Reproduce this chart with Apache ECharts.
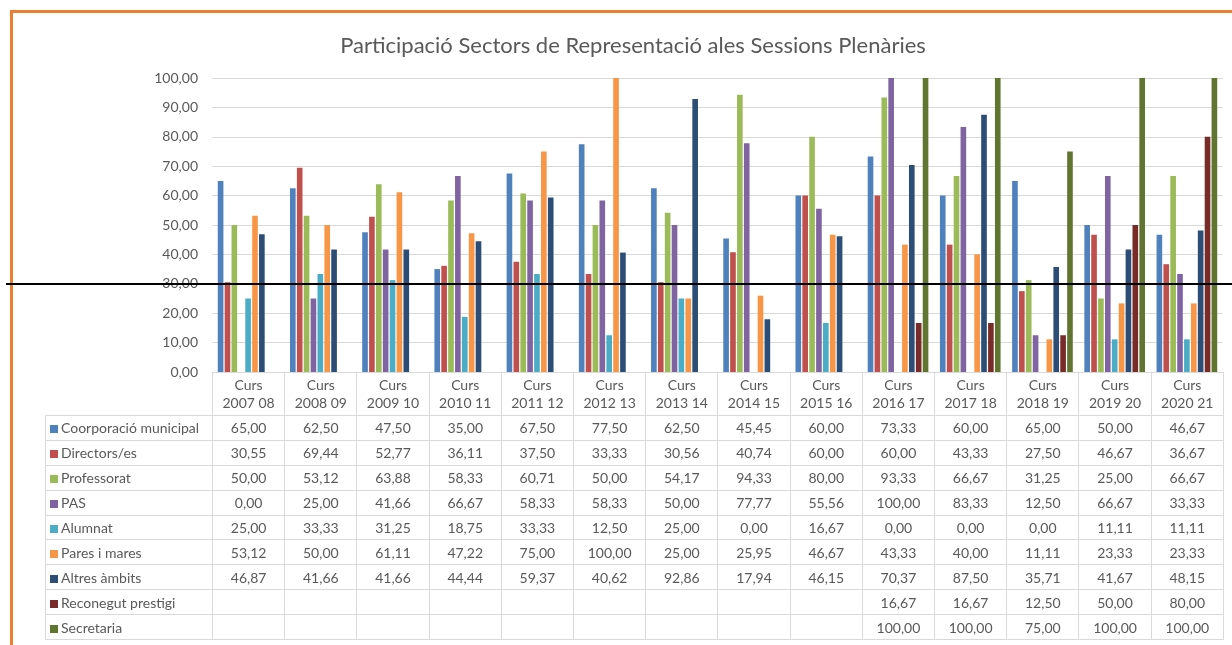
<!DOCTYPE html>
<html>
<head>
<meta charset="utf-8">
<script src="https://cdn.jsdelivr.net/npm/echarts@6/dist/echarts.min.js"></script>
<style>
  html, body { margin: 0; padding: 0; background: #fff; }
  #wrap { position: relative; width: 1232px; height: 645px; overflow: hidden; }
  #chart { position: absolute; left: 0; top: 0; width: 1232px; height: 645px; }
  #frame { position: absolute; left: 10px; top: 10px; width: 1240px; height: 660px;
           border-top: 3px solid #ED7D31; border-left: 3px solid #ED7D31; pointer-events: none; }
  #cut { position: absolute; left: 6px; top: 283px; width: 1226px; height: 2px; background: #000; }
  #tbl { position: absolute; left: 45px; top: 372px; border-collapse: collapse; table-layout: fixed;
         font-family: Lato, "Liberation Sans", sans-serif; font-size: 14px; color: #595959; }
  #tbl td { border: 1px solid #d9d9d9; padding: 0; text-align: center; height: 23.9px; white-space: nowrap; }
  #tbl tr.head td { height: 42px; line-height: 18px; }
  #tbl td.blank { border: none; border-right: 1px solid #d9d9d9; }
  #tbl td.name { text-align: left; padding-left: 4px; }
  #tbl .key { display: inline-block; width: 8px; height: 8px; margin-right: 3px; vertical-align: 0px; }
</style>
</head>
<body>
<div id="wrap">
  <div id="chart"></div>
  <table id="tbl"></table>
  <div id="frame"></div>
  <div id="cut"></div>
</div>
<script>
const categories = ['Curs 2007 08', 'Curs 2008 09', 'Curs 2009 10', 'Curs 2010 11', 'Curs 2011 12',
  'Curs 2012 13', 'Curs 2013 14', 'Curs 2014 15', 'Curs 2015 16', 'Curs 2016 17', 'Curs 2017 18',
  'Curs 2018 19', 'Curs 2019 20', 'Curs 2020 21']

const seriesNames = ['Coorporació municipal', 'Directors/es', 'Professorat', 'PAS', 'Alumnat',
  'Pares i mares', 'Altres àmbits', 'Reconegut prestigi', 'Secretaria']

const coorporacio = [65.00, 62.50, 47.50, 35.00, 67.50, 77.50, 62.50, 45.45, 60.00, 73.33, 60.00, 65.00, 50.00, 46.67]
const directors = [30.55, 69.44, 52.77, 36.11, 37.50, 33.33, 30.56, 40.74, 60.00, 60.00, 43.33, 27.50, 46.67, 36.67]
const professorat = [50.00, 53.12, 63.88, 58.33, 60.71, 50.00, 54.17, 94.33, 80.00, 93.33, 66.67, 31.25, 25.00, 66.67]
const pas = [0.00, 25.00, 41.66, 66.67, 58.33, 58.33, 50.00, 77.77, 55.56, 100.00, 83.33, 12.50, 66.67, 33.33]
const alumnat = [25.00, 33.33, 31.25, 18.75, 33.33, 12.50, 25.00, 0.00, 16.67, 0.00, 0.00, 0.00, 11.11, 11.11]
const pares = [53.12, 50.00, 61.11, 47.22, 75.00, 100.00, 25.00, 25.95, 46.67, 43.33, 40.00, 11.11, 23.33, 23.33]
const altres = [46.87, 41.66, 41.66, 44.44, 59.37, 40.62, 92.86, 17.94, 46.15, 70.37, 87.50, 35.71, 41.67, 48.15]
const prestigi = [null, null, null, null, null, null, null, null, null, 16.67, 16.67, 12.50, 50.00, 80.00]
const secretaria = [null, null, null, null, null, null, null, null, null, 100.00, 100.00, 75.00, 100.00, 100.00]

const yTicks = [0, 10, 20, 30, 40, 50, 60, 70, 80, 90, 100]

const colors = ['#4F81BD', '#C0504D', '#9BBB59', '#8064A2', '#4BACC6', '#F79646', '#2C4D75', '#772C2A', '#5F7530']
const allData = [coorporacio, directors, professorat, pas, alumnat, pares, altres, prestigi, secretaria]

const fmt = v => (v === null || v === undefined) ? '' : v.toFixed(2).replace('.', ',')

// data table under the plot
const plotLeft = 212, plotRight = 1223
const colW = (plotRight - plotLeft) / categories.length
const tbl = document.getElementById('tbl')
let html = '<colgroup><col style="width:' + (plotLeft - 45) + 'px">'
categories.forEach(() => { html += '<col style="width:' + colW + 'px">' })
html += '</colgroup><tr class="head"><td class="blank"></td>'
categories.forEach(c => {
  const parts = c.split(' ')
  html += '<td>' + parts[0] + '<br>' + parts.slice(1).join(' ') + '</td>'
})
html += '</tr>'
seriesNames.forEach((name, i) => {
  html += '<tr><td class="name"><span class="key" style="background:' + colors[i] + '"></span>' + name + '</td>'
  allData[i].forEach(v => { html += '<td>' + fmt(v) + '</td>' })
  html += '</tr>'
})
tbl.innerHTML = html
tbl.style.width = (plotRight - 45) + 'px'

const chart = echarts.init(document.getElementById('chart'))
chart.setOption({
  animation: false,
  color: colors,
  title: {
    text: 'Participació Sectors de Representació ales Sessions Plenàries',
    left: 628,
    top: 30,
    textAlign: 'center',
    textStyle: { color: '#595959', fontSize: 22, fontWeight: 'normal', fontFamily: 'Lato, "Liberation Sans", sans-serif' },
  },
  grid: { left: plotLeft, right: 1232 - plotRight, top: 78, bottom: 645 - 372 },
  xAxis: {
    type: 'category',
    data: categories,
    axisLine: { show: true, lineStyle: { color: '#d9d9d9' } },
    axisTick: { show: false },
    axisLabel: { show: false },
  },
  yAxis: {
    type: 'value',
    min: yTicks[0],
    max: yTicks[yTicks.length - 1],
    interval: 10,
    axisLine: { show: false },
    axisTick: { show: false },
    axisLabel: { color: '#595959', fontSize: 14, margin: 14, fontFamily: 'Lato, "Liberation Sans", sans-serif',
      formatter: v => fmt(v) },
    splitLine: { lineStyle: { color: '#d9d9d9', width: 1 } },
  },
  series: seriesNames.map((name, i) => ({
    name,
    type: 'bar',
    data: allData[i],
    barGap: '22%',
    barCategoryGap: '16%',
  })),
})
</script>
</body>
</html>
